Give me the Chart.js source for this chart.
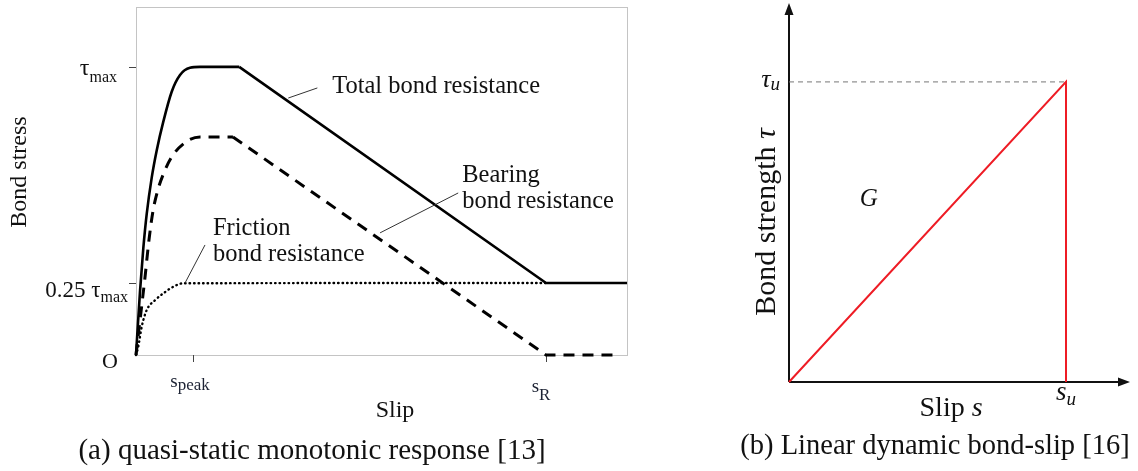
<!DOCTYPE html>
<html>
<head>
<meta charset="utf-8">
<script src="https://cdn.jsdelivr.net/npm/chart.js@4.4.0/dist/chart.umd.min.js"></script>
<style>
    body { margin: 0; background: #fff; width: 1138px; height: 471px; position: relative; overflow: hidden; }
    #wrapA { position: absolute; left: 0; top: 0; width: 650px; height: 471px; }
    #wrapB { position: absolute; left: 650px; top: 0; width: 488px; height: 471px; }
</style>
</head>
<body>
<div id="wrapA"><canvas id="chartA"></canvas></div>
<div id="wrapB"><canvas id="chartB"></canvas></div>
<script>
// ---- panel (a): quasi-static monotonic response (stress as fraction of tau_max) ----
const S_PEAK = 1;
const S_R = 7.19;
const X_MAX_A = 8.61;
const Y_MAX_A = 1.208;

const totalSlip = [0, 0.07, 0.128, 0.188, 0.275, 0.363, 0.479, 0.626, 0.772, 0.947, 1.123, 1.81, 7.19, 8.61];
const totalStress = [0, 0.22, 0.37, 0.49, 0.615, 0.71, 0.81, 0.914, 0.972, 0.997, 1, 1, 0.25, 0.25];
const TOTAL_KNEE = 11;     // end of the curved rise + plateau

const bearingSlip = [0, 0.07, 0.158, 0.228, 0.298, 0.386, 0.474, 0.614, 0.877, 1.123, 1.70, 7.19, 8.49];
const bearingStress = [0, 0.12, 0.27, 0.4, 0.5, 0.575, 0.625, 0.684, 0.74, 0.757, 0.757, 0, 0];
const BEARING_KNEE = 10;

const frictionSlip = [0, 0.04, 0.1, 0.188, 0.333, 0.479, 0.654, 0.83, 7.19];
const frictionStress = [0, 0.029, 0.098, 0.156, 0.19, 0.214, 0.237, 0.249, 0.25];

const yTicksA = [1, 0.25, 0];
const xTicksA = [S_PEAK, S_R];

// ---- panel (b): linear dynamic bond-slip (normalised by s_u, tau_u) ----
const X_MAX_B = 1.231;
const Y_MAX_B = 1.263;
const linearSlip = [0, 1, 1];
const linearStrength = [0, 1, 0];
const guideSlip = [0, 1];
const guideStrength = [1, 1];

const SERIF = "'Liberation Serif', 'Times New Roman', serif";

function pts(xs, ys) {
    return xs.map((x, i) => ({ x: x, y: ys[i] }));
}

// main text + second part (subscript when dy > 0), anchored left/right/center at x
function subText(ctx, x, y, main, sub, f1, f2, dy, align) {
    ctx.font = f1;
    const w1 = ctx.measureText(main).width;
    ctx.font = f2;
    const w2 = ctx.measureText(sub).width;
    let x0 = x;
    if (align === "right") x0 = x - w1 - w2;
    if (align === "center") x0 = x - (w1 + w2) / 2;
    ctx.textAlign = "left";
    ctx.font = f1;
    ctx.fillText(main, x0, y);
    ctx.font = f2;
    ctx.fillText(sub, x0 + w1, y + dy);
}

const panelA = {
    id: "panelA",
    beforeDatasetsDraw(chart) {
        const { ctx, chartArea: a, scales: { x, y } } = chart;
        ctx.save();
        ctx.strokeStyle = "#c4c4c4";
        ctx.lineWidth = 1;
        ctx.strokeRect(a.left + 0.5, a.top + 0.5, a.right - a.left, a.bottom - a.top);
        // tick marks
        ctx.strokeStyle = "#444";
        ctx.beginPath();
        [yTicksA[0], yTicksA[1]].forEach(v => {
            const py = Math.round(y.getPixelForValue(v)) + 0.5;
            ctx.moveTo(a.left - 7, py);
            ctx.lineTo(a.left, py);
        });
        xTicksA.forEach(v => {
            const px = Math.round(x.getPixelForValue(v)) + 0.5;
            ctx.moveTo(px, a.bottom);
            ctx.lineTo(px, a.bottom + 7);
        });
        ctx.stroke();
        ctx.restore();
    },
    afterDraw(chart) {
        const { ctx, chartArea: a, scales: { x, y } } = chart;
        ctx.save();
        ctx.fillStyle = "#111";
        ctx.textBaseline = "alphabetic";

        // tick labels
        let py = y.getPixelForValue(yTicksA[0]);
        subText(ctx, a.left - 19, py + 8, "\u03c4", "max", "24px " + SERIF, "16px " + SERIF, 7, "right");
        py = y.getPixelForValue(yTicksA[1]);
        subText(ctx, a.left - 8, py + 14, "0.25 \u03c4", "max", "23px " + SERIF, "16px " + SERIF, 5, "right");
        ctx.font = "22px " + SERIF;
        ctx.textAlign = "right";
        ctx.fillText("O", a.left - 18, y.getPixelForValue(yTicksA[2]) + 13);

        ctx.fillStyle = "#1c2233";
        let px = x.getPixelForValue(xTicksA[0]);
        subText(ctx, px - 3, a.bottom + 32, "s", "peak", "19px " + SERIF, "17px " + SERIF, 3, "center");
        px = x.getPixelForValue(xTicksA[1]);
        subText(ctx, px - 5, a.bottom + 37, "s", "R", "19px " + SERIF, "17px " + SERIF, 8, "center");

        // axis titles
        ctx.fillStyle = "#111";
        ctx.font = "24px " + SERIF;
        ctx.textAlign = "center";
        ctx.fillText("Slip", 395, 417);
        ctx.save();
        ctx.translate(26, 172);
        ctx.rotate(-Math.PI / 2);
        ctx.fillText("Bond stress", 0, 0);
        ctx.restore();

        // curve labels with leader lines (data coordinates)
        ctx.strokeStyle = "#333";
        ctx.lineWidth = 1;
        const leaders = [
            [2.67, 0.892, 3.18, 0.927],
            [4.28, 0.424, 5.65, 0.5625],
            [0.86, 0.25, 1.21, 0.382]
        ];
        ctx.beginPath();
        leaders.forEach(l => {
            ctx.moveTo(x.getPixelForValue(l[0]), y.getPixelForValue(l[1]));
            ctx.lineTo(x.getPixelForValue(l[2]), y.getPixelForValue(l[3]));
        });
        ctx.stroke();

        ctx.font = "24.5px " + SERIF;
        ctx.textAlign = "left";
        ctx.fillText("Total bond resistance", x.getPixelForValue(3.44), y.getPixelForValue(0.91));
        ctx.fillText("Bearing", x.getPixelForValue(5.72), y.getPixelForValue(0.60));
        ctx.fillText("bond resistance", x.getPixelForValue(5.72), y.getPixelForValue(0.51));
        ctx.fillText("Friction", x.getPixelForValue(1.35), y.getPixelForValue(0.417));
        ctx.fillText("bond resistance", x.getPixelForValue(1.35), y.getPixelForValue(0.326));

        // caption
        ctx.font = "29px " + SERIF;
        ctx.textAlign = "center";
        ctx.fillText("(a) quasi-static monotonic response [13]", 312, 459);
        ctx.restore();
    }
};

const panelB = {
    id: "panelB",
    beforeDatasetsDraw(chart) {
        const { ctx, chartArea: a, scales: { x, y } } = chart;
        const ox = x.getPixelForValue(0);
        const oy = y.getPixelForValue(0);
        ctx.save();
        ctx.strokeStyle = "#111";
        ctx.fillStyle = "#111";
        ctx.lineWidth = 2;
        ctx.beginPath();
        ctx.moveTo(ox, oy);
        ctx.lineTo(ox, a.top + 8);
        ctx.moveTo(ox, oy);
        ctx.lineTo(a.right - 8, oy);
        ctx.stroke();
        // arrow heads
        ctx.beginPath();
        ctx.moveTo(ox, a.top);
        ctx.lineTo(ox - 4.5, a.top + 12);
        ctx.lineTo(ox + 4.5, a.top + 12);
        ctx.closePath();
        ctx.moveTo(a.right, oy);
        ctx.lineTo(a.right - 12, oy - 4.5);
        ctx.lineTo(a.right - 12, oy + 4.5);
        ctx.closePath();
        ctx.fill();
        ctx.restore();
    },
    afterDraw(chart) {
        const { ctx, scales: { x, y } } = chart;
        const ox = x.getPixelForValue(0);
        const oy = y.getPixelForValue(0);
        ctx.save();
        ctx.fillStyle = "#111";
        ctx.textBaseline = "alphabetic";

        const tu = y.getPixelForValue(guideStrength[0]);
        subText(ctx, ox - 9, tu + 5, "\u03c4", "u", "italic 26px " + SERIF, "italic 19px " + SERIF, 3, "right");
        const su = x.getPixelForValue(linearSlip[1]);
        subText(ctx, su, oy + 18, "s", "u", "italic 27px " + SERIF, "italic 19px " + SERIF, 5, "center");

        ctx.font = "italic 25px " + SERIF;
        ctx.textAlign = "left";
        ctx.fillText("G", x.getPixelForValue(0.255), y.getPixelForValue(0.5855));

        ctx.save();
        ctx.translate(ox - 14, 222);
        ctx.rotate(-Math.PI / 2);
        subText(ctx, 0, 0, "Bond strength ", "\u03c4", "30px " + SERIF, "italic 30px " + SERIF, 0, "center");
        ctx.restore();

        subText(ctx, x.getPixelForValue(0.585), oy + 34, "Slip ", "s", "28px " + SERIF, "italic 28px " + SERIF, 0, "center");

        ctx.font = "28.5px " + SERIF;
        ctx.textAlign = "center";
        ctx.fillText("(b) Linear dynamic bond-slip [16]", 935 - 650, 454);
        ctx.restore();
    }
};

const solidStyle = { borderColor: "#000", borderWidth: 2.6, clip: false };
const dashStyle = { borderColor: "#000", borderWidth: 3, borderDash: [11, 8], clip: false };

new Chart(document.getElementById("chartA"), {
    type: "line",
    data: {
        datasets: [
            Object.assign({
                label: "Total bond resistance",
                data: pts(totalSlip.slice(0, TOTAL_KNEE + 1), totalStress.slice(0, TOTAL_KNEE + 1)),
                cubicInterpolationMode: "monotone"
            }, solidStyle),
            Object.assign({
                label: "Total bond resistance (softening)",
                data: pts(totalSlip.slice(TOTAL_KNEE), totalStress.slice(TOTAL_KNEE))
            }, solidStyle),
            Object.assign({
                label: "Bearing bond resistance",
                data: pts(bearingSlip.slice(0, BEARING_KNEE + 1), bearingStress.slice(0, BEARING_KNEE + 1)),
                cubicInterpolationMode: "monotone"
            }, dashStyle),
            Object.assign({
                label: "Bearing bond resistance (softening)",
                data: pts(bearingSlip.slice(BEARING_KNEE), bearingStress.slice(BEARING_KNEE))
            }, dashStyle),
            {
                label: "Friction bond resistance",
                data: pts(frictionSlip, frictionStress),
                cubicInterpolationMode: "monotone",
                borderColor: "#000",
                borderWidth: 2.4,
                borderDash: [0.5, 4],
                borderCapStyle: "round",
                clip: false
            }
        ]
    },
    options: {
        responsive: true,
        maintainAspectRatio: false,
        animation: false,
        layout: { padding: { left: 136, top: 7, right: 23, bottom: 116 } },
        elements: { point: { radius: 0 }, line: { tension: 0 } },
        plugins: { legend: { display: false }, tooltip: { enabled: false } },
        scales: {
            x: { type: "linear", min: 0, max: X_MAX_A, display: false },
            y: { type: "linear", min: 0, max: Y_MAX_A, display: false }
        }
    },
    plugins: [panelA]
});

new Chart(document.getElementById("chartB"), {
    type: "line",
    data: {
        datasets: [{
            label: "Linear bond-slip",
            data: pts(linearSlip, linearStrength),
            borderColor: "#ee1c25",
            borderWidth: 2,
            clip: false
        }, {
            label: "tau_u",
            data: pts(guideSlip, guideStrength),
            borderColor: "#777",
            borderWidth: 1,
            borderDash: [5, 4],
            clip: false
        }]
    },
    options: {
        responsive: true,
        maintainAspectRatio: false,
        animation: false,
        layout: { padding: { left: 139, top: 3, right: 8, bottom: 89 } },
        elements: { point: { radius: 0 }, line: { tension: 0 } },
        plugins: { legend: { display: false }, tooltip: { enabled: false } },
        scales: {
            x: { type: "linear", min: 0, max: X_MAX_B, display: false },
            y: { type: "linear", min: 0, max: Y_MAX_B, display: false }
        }
    },
    plugins: [panelB]
});
</script>
</body>
</html>
